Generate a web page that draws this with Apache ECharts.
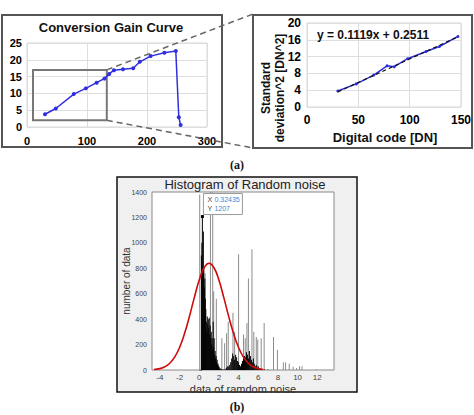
<!DOCTYPE html>
<html><head><meta charset="utf-8">
<script src="https://cdn.jsdelivr.net/npm/echarts@6/dist/echarts.min.js"></script>
<style>html,body{margin:0;padding:0;background:#fff}#c{width:474px;height:415px}</style>
</head><body><div id="c"></div>
<script>
// ---- (a) Conversion gain curve ----
const gainX = [30, 48, 78, 98, 116, 129, 137, 145, 160, 177, 188, 206, 229, 248, 253, 256];
const gainY = [3.8, 5.5, 9.8, 11.5, 13.2, 14.4, 15.8, 16.9, 17.2, 17.5, 19.4, 21.1, 22.1, 22.6, 2.9, 0.6];
const zoomBoxX = [10, 133];
const zoomBoxY = [2, 17];
// ---- (a) zoomed linear part ----
const linX = [30, 48, 65, 78, 85, 98, 116, 129, 147];
const linY = [3.8, 5.5, 7.6, 9.8, 9.6, 11.5, 13.2, 14.4, 16.8];
const trendX = [30, 148];
const trendY = [3.61, 16.81];
const equation = 'y = 0.1119x + 0.2511';
// ---- (b) histogram ----
const histBlackX = [0.22,0.27,0.32,0.37,0.42,0.47,0.52,0.57,0.62,0.67,0.72,0.77,0.82,0.87,0.92,0.97,1.02,1.07,1.12,1.17,1.22,1.27,1.32,1.37,1.42,1.47,1.52,1.57,1.62,1.67,1.72,1.77,1.82,1.87,1.92,1.97,2.02,2.1,2.2,2.3,2.5,2.7,2.8,2.9,3.0,3.1,3.2,3.3,3.4,3.5,3.6,3.7,3.8,3.9,4.0,4.1,4.2,4.3,4.4,4.5,4.6,4.7,4.8,4.9,5.0,5.1,5.2,5.3,5.4,5.5,5.6,5.7,5.8,5.9,6.0,6.1,6.2,6.4,6.6,7.0];
const histBlackY = [900,1000,1207,760,1090,800,650,720,560,480,380,300,420,360,400,330,410,280,350,250,300,200,250,160,380,180,250,120,150,90,110,60,80,40,50,30,25,15,10,8,5,10,20,30,25,40,60,90,130,110,80,120,100,70,60,40,30,50,70,90,110,100,140,120,90,150,110,80,60,90,50,30,40,20,30,15,10,8,5,4];
const histGrayX = [0.05,0.6,1.14,1.37,1.47,1.74,2.3,2.58,2.78,2.95,3.43,3.6,4.0,4.5,4.68,4.85,5.0,5.36,5.55,5.8,5.95,6.3,6.6,7.55,7.95,8.55,8.78,9.15,9.55,9.9,10.2,10.45,11.9];
const histGrayY = [1380,760,1450,1450,620,560,250,210,290,380,450,300,910,280,250,370,720,950,300,260,240,250,370,260,160,60,60,50,25,15,30,30,5];
const fitX = [-4.6,-4,-3.5,-3,-2.5,-2,-1.5,-1,-0.5,0,0.5,1,1.5,2,2.5,3,3.5,4,4.5,5,5.5,6,6.5];
const fitY = [4,11,25,53,101,177,285,420,569,707,804,840,804,707,569,420,285,177,101,53,25,11,4];
const histTicks = [-4,-2,0,2,4,6,8,10,12];
const tipX = 0.32435, tipY = 1207;

const zip = (a, b) => a.map((v, i) => [v, b[i]]);
const F = '"Liberation Sans", Arial, sans-serif';
const boldLbl = (size, margin) => ({fontFamily: F, fontWeight: 'bold', fontSize: size, color: '#000', margin: margin});
const lightSplit = {show: true, lineStyle: {color: '#dedede', width: 1}};
const plain = v => String(v);

const chart = echarts.init(document.getElementById('c'), null, {renderer: 'svg'});

const HG = {left: 152, top: 192, width: 182, height: 178};
const ctr = {align: 'center', verticalAlign: 'middle', textAlign: 'center', textVerticalAlign: 'middle'};
const lft = {align: 'left', verticalAlign: 'middle', textAlign: 'left', textVerticalAlign: 'middle'};

const baseGraphics = [
  {type: 'rect', z: 0, shape: {x: 2, y: 15, width: 220, height: 132}, style: {fill: 'none', stroke: '#555', lineWidth: 2}},
  {type: 'rect', z: 0, shape: {x: 253, y: 15, width: 219, height: 133}, style: {fill: 'none', stroke: '#555', lineWidth: 2}},
  {type: 'rect', z: 0, shape: {x: 117, y: 177, width: 240, height: 215}, style: {fill: '#f0f0f0', stroke: '#111', lineWidth: 1.5}},
  {type: 'rect', z: 1, shape: {x: HG.left, y: HG.top, width: HG.width, height: HG.height}, style: {fill: '#ffffff', stroke: '#8a8a8a', lineWidth: 1}},
  {type: 'text', z: 1, x: 111, y: 27, style: Object.assign({text: 'Conversion Gain Curve', font: 'bold 13px ' + F, fill: '#111'}, ctr)},
  {type: 'text', z: 1, x: 317, y: 35, style: Object.assign({text: equation, font: 'bold 12px ' + F, fill: '#111'}, lft)},
  {type: 'text', z: 1, x: 273, y: 88, rotation: Math.PI / 2, style: Object.assign({text: 'Standard\ndeviation^2 [DN^2]', font: 'bold 12px ' + F, lineHeight: 14, fill: '#111'}, ctr)},
  {type: 'text', z: 1, x: 385, y: 137, style: Object.assign({text: 'Digital code [DN]', font: 'bold 13px ' + F, fill: '#111'}, ctr)},
  {type: 'text', z: 1, x: 237, y: 165, style: Object.assign({text: '(a)', font: 'bold 12px "Liberation Serif", serif', fill: '#111'}, ctr)},
  {type: 'text', z: 1, x: 245, y: 184, style: Object.assign({text: 'Histogram of Random noise', font: '13px ' + F, fill: '#222'}, ctr)},
  {type: 'text', z: 1, x: 126, y: 281, rotation: Math.PI / 2, style: Object.assign({text: 'number of data', font: '10px ' + F, fill: '#333'}, ctr)},
  {type: 'text', z: 1, x: 243, y: 389, style: Object.assign({text: 'data of ramdom noise', font: '11px ' + F, fill: '#333'}, ctr)},
  {type: 'text', z: 1, x: 237, y: 407, style: Object.assign({text: '(b)', font: 'bold 12px "Liberation Serif", serif', fill: '#111'}, ctr)}
];

chart.setOption({
  animation: false,
  grid: [
    {left: 27, top: 43, width: 180, height: 84, show: true, borderColor: '#d8d8d8', backgroundColor: '#fff'},
    {left: 307, top: 23, width: 154, height: 84, show: true, borderColor: '#d8d8d8', backgroundColor: '#fff'},
    Object.assign({show: false}, HG)
  ],
  xAxis: [
    {type: 'value', gridIndex: 0, min: 0, max: 300, interval: 100, axisLine: {show: false}, axisTick: {show: false}, splitLine: lightSplit, axisLabel: boldLbl(11, 8)},
    {type: 'value', gridIndex: 1, min: 0, max: 150, interval: 50, axisLine: {show: false}, axisTick: {show: false}, splitLine: lightSplit, axisLabel: boldLbl(12, 7)},
    {type: 'value', gridIndex: 2, min: -4.8, max: 13.7, axisLine: {show: false}, splitLine: {show: false},
     axisTick: {show: true, inside: true, length: 3, lineStyle: {color: '#666'}, customValues: histTicks},
     axisLabel: {fontFamily: F, fontSize: 8, color: '#444', margin: 3, formatter: plain, customValues: histTicks}}
  ],
  yAxis: [
    {type: 'value', gridIndex: 0, min: 0, max: 25, interval: 5, axisLine: {show: false}, axisTick: {show: false}, splitLine: lightSplit, axisLabel: boldLbl(11, 5)},
    {type: 'value', gridIndex: 1, min: 0, max: 20, interval: 4, axisLine: {show: false}, axisTick: {show: false}, splitLine: lightSplit, axisLabel: boldLbl(12, 6)},
    {type: 'value', gridIndex: 2, min: 0, max: 1400, interval: 200, axisLine: {show: false}, splitLine: {show: false},
     axisTick: {show: true, inside: true, length: 3, lineStyle: {color: '#666'}},
     axisLabel: {fontFamily: F, fontSize: 7, color: '#444', margin: 5, formatter: plain}}
  ],
  series: [
    {type: 'line', xAxisIndex: 0, yAxisIndex: 0, data: zip(gainX, gainY), symbol: 'circle', symbolSize: 4,
     lineStyle: {color: '#2f2fe0', width: 1.5}, itemStyle: {color: '#2f2fe0'},
     markArea: {silent: true, itemStyle: {color: 'rgba(0,0,0,0)', borderColor: '#777', borderWidth: 2},
       data: [[{coord: [zoomBoxX[0], zoomBoxY[1]]}, {coord: [zoomBoxX[1], zoomBoxY[0]]}]]}},
    {type: 'line', xAxisIndex: 1, yAxisIndex: 1, data: zip(linX, linY), symbol: 'circle', symbolSize: 3,
     lineStyle: {color: '#2f2fe0', width: 1.5}, itemStyle: {color: '#2f2fe0'}, z: 3},
    {type: 'line', xAxisIndex: 1, yAxisIndex: 1, data: zip(trendX, trendY), symbol: 'none',
     lineStyle: {color: '#111', width: 1.2, type: [4, 3]}, z: 4},
    {type: 'bar', xAxisIndex: 2, yAxisIndex: 2, data: zip(histGrayX, histGrayY), barWidth: 1, barGap: '-100%', itemStyle: {color: '#8c8c8c'}, z: 3},
    {type: 'bar', xAxisIndex: 2, yAxisIndex: 2, data: zip(histBlackX, histBlackY), barWidth: 1, barGap: '-100%', itemStyle: {color: '#000'}, z: 4},
    {type: 'line', xAxisIndex: 2, yAxisIndex: 2, data: zip(fitX, fitY), smooth: true, symbol: 'none',
     lineStyle: {color: '#d10a0a', width: 1.6}, z: 6}
  ],
  graphic: baseGraphics
});

// connectors from zoom box to the right panel, and the data tip
const tr = chart.convertToPixel({gridIndex: 0}, [zoomBoxX[1], zoomBoxY[1]]);
const br = chart.convertToPixel({gridIndex: 0}, [zoomBoxX[1], zoomBoxY[0]]);
const tp = chart.convertToPixel({gridIndex: 2}, [tipX, tipY]);
const extra = [
  {type: 'line', z: 1, shape: {x1: tr[0], y1: tr[1], x2: 253, y2: 14}, style: {stroke: '#666', lineWidth: 1.5, lineDash: [6, 4]}},
  {type: 'line', z: 1, shape: {x1: br[0], y1: br[1], x2: 253, y2: 148}, style: {stroke: '#666', lineWidth: 1.5, lineDash: [6, 4]}},
  {type: 'rect', z: 20, shape: {x: tp[0] - 1.5, y: tp[1] - 1.5, width: 3, height: 3}, style: {fill: '#000'}},
  {type: 'rect', z: 20, shape: {x: tp[0] + 1, y: tp[1] - 23, width: 39, height: 21}, style: {fill: '#fff', stroke: '#999', lineWidth: 1}},
  {type: 'text', z: 21, x: tp[0] + 5, y: tp[1] - 17, style: Object.assign({text: 'X', font: '7px ' + F, fill: '#444'}, lft)},
  {type: 'text', z: 21, x: tp[0] + 12, y: tp[1] - 17, style: Object.assign({text: String(tipX), font: '7px ' + F, fill: '#2f8fd8'}, lft)},
  {type: 'text', z: 21, x: tp[0] + 5, y: tp[1] - 8, style: Object.assign({text: 'Y', font: '7px ' + F, fill: '#444'}, lft)},
  {type: 'text', z: 21, x: tp[0] + 12, y: tp[1] - 8, style: Object.assign({text: String(tipY), font: '7px ' + F, fill: '#2f8fd8'}, lft)}
];
chart.setOption({graphic: baseGraphics.concat(extra)});
</script></body></html>
